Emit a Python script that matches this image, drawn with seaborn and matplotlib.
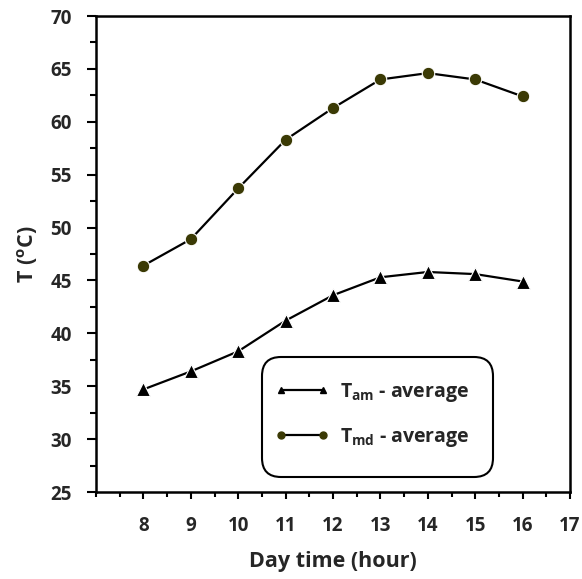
import matplotlib
matplotlib.use("Agg")
import matplotlib.pyplot as plt
import seaborn as sns
import pandas as pd
from matplotlib.lines import Line2D
from matplotlib.patches import FancyBboxPatch
from matplotlib.ticker import MultipleLocator

hours = [8, 9, 10, 11, 12, 13, 14, 15, 16]
t_am = [34.7, 36.4, 38.3, 41.2, 43.6, 45.3, 45.8, 45.6, 44.9]
t_md = [46.4, 48.9, 53.7, 58.3, 61.3, 64.0, 64.6, 64.0, 62.4]
x_ticks = [8, 9, 10, 11, 12, 13, 14, 15, 16, 17]
y_ticks = [25, 30, 35, 40, 45, 50, 55, 60, 65, 70]
labels = [r"$\mathbf{T_{am}}$ - average", r"$\mathbf{T_{md}}$ - average"]

sns.set_theme(style="white")
FONT = "Open Sans"
plt.rcParams["font.family"] = [FONT, "DejaVu Sans"]
plt.rcParams["font.weight"] = "bold"
plt.rcParams["mathtext.fontset"] = "custom"
plt.rcParams["mathtext.rm"] = FONT
plt.rcParams["mathtext.bf"] = FONT + ":bold"
plt.rcParams["mathtext.it"] = FONT + ":italic"

df_am = pd.DataFrame({"hour": hours, "T": t_am})
df_md = pd.DataFrame({"hour": hours, "T": t_md})

W, H = 582, 579
fig = plt.figure(figsize=(W / 100, H / 100), dpi=100)
ax_l, ax_r, ax_t, ax_b = 96, 570, 16, 492
ax = fig.add_axes([ax_l / W, 1 - ax_b / H, (ax_r - ax_l) / W, (ax_b - ax_t) / H])


def ax_coords(px, py):
    return (px - ax_l) / (ax_r - ax_l), (ax_b - py) / (ax_b - ax_t)


md_color = "#3b3a05"
sns.lineplot(data=df_md, x="hour", y="T", ax=ax, color="black", lw=1.6,
             marker="o", markersize=9, markerfacecolor=md_color,
             markeredgecolor="white", markeredgewidth=0.8)
sns.lineplot(data=df_am, x="hour", y="T", ax=ax, color="black", lw=1.6,
             marker="^", markersize=10, markerfacecolor="black",
             markeredgecolor="white", markeredgewidth=0.8)

ax.set_xlim(7, 17)
ax.set_ylim(25, 70)
ax.set_xticks(x_ticks)
ax.set_yticks(y_ticks)
ax.xaxis.set_minor_locator(MultipleLocator(0.5))
ax.yaxis.set_minor_locator(MultipleLocator(2.5))
ax.tick_params(axis="x", which="major", direction="out", length=5, width=1.5,
               pad=12, labelsize=13.5, bottom=True, color="black")
ax.tick_params(axis="x", which="minor", direction="out", length=3.5, width=1.5,
               bottom=True, color="black")
ax.tick_params(axis="y", which="major", direction="out", length=6.5, width=1.5,
               pad=11, labelsize=13.5, left=True, color="black")
ax.tick_params(axis="y", which="minor", direction="out", length=4.5, width=1.5,
               left=True, color="black")
for lab in ax.get_xticklabels() + ax.get_yticklabels():
    lab.set_fontweight("bold")

for sp in ax.spines.values():
    sp.set_visible(True)
    sp.set_color("black")
    sp.set_linewidth(1.8)

ax.set_xlabel("Day time (hour)", fontsize=15.5, fontweight="bold", labelpad=11)
ax.set_ylabel(r"T ($\mathbf{^o}$C)", fontsize=15.5, fontweight="bold", labelpad=7)

# legend box (rounded frame)
bx0, by0 = ax_coords(262, 477)
bx1, by1 = ax_coords(493, 357)
box = FancyBboxPatch((bx0, by0), bx1 - bx0, by1 - by0,
                     boxstyle="round,pad=0,rounding_size=0.04",
                     transform=ax.transAxes, facecolor="white",
                     edgecolor="black", linewidth=1.5, zorder=4)
ax.add_patch(box)

handles = [
    Line2D([], [], color="black", lw=1.6, marker="^", markersize=5,
           markerfacecolor="black", markeredgecolor="black"),
    Line2D([], [], color="black", lw=1.6, marker="o", markersize=5,
           markerfacecolor=md_color, markeredgecolor=md_color),
]
leg = ax.legend(handles, labels, loc="center left",
                bbox_to_anchor=ax_coords(275, 415),
                frameon=False,
                prop={"family": FONT, "weight": "bold", "size": 14},
                handlelength=2.75, handletextpad=0.6, labelspacing=1.15,
                borderpad=0, borderaxespad=0, numpoints=2)
leg.set_zorder(5)

fig.savefig("out.png", dpi=100)
